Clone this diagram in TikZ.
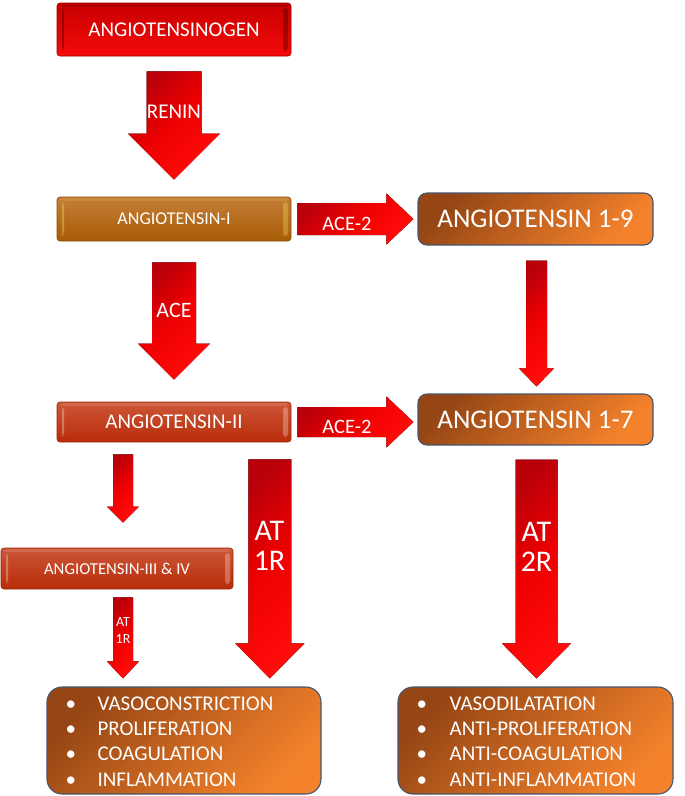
\documentclass[tikz,border=0pt]{standalone}
\usepackage{fontspec}
\setmainfont{Carlito}
\usetikzlibrary{calc}
\definecolor{arD}{RGB}{185,0,10}
\definecolor{arM}{RGB}{240,0,0}
\definecolor{arB}{RGB}{255,12,12}
\definecolor{brD}{RGB}{150,70,20}
\definecolor{brM}{RGB}{204,98,30}
\definecolor{brL}{RGB}{244,130,44}
\definecolor{bord}{RGB}{70,86,110}
\definecolor{rT}{RGB}{200,0,0}
\definecolor{rM}{RGB}{238,0,0}
\definecolor{rB}{RGB}{245,10,10}
\definecolor{gT}{RGB}{196,126,56}
\definecolor{gM}{RGB}{184,104,12}
\definecolor{gB}{RGB}{168,92,6}
\definecolor{oT}{RGB}{204,86,56}
\definecolor{oM}{RGB}{196,52,16}
\definecolor{oB}{RGB}{184,44,8}
\newcommand\fsz[2]{\fontsize{#1}{#2}\selectfont}
\newcommand\downblock[5]{%
  \fill[arrowshade] let \p1=(#1), \p2=(#2) in
  (\x1-#3,\y1) -- (\x1+#3,\y1) -- (\x1+#3,\y2+#5) -- (\x1+#4,\y2+#5) --
  (\x1,\y2) -- (\x1-#4,\y2+#5) -- (\x1-#3,\y2+#5) -- cycle;}
\newcommand\rightblock[5]{%
  \fill[arrowshade] let \p1=(#1), \p2=(#2) in
  (\x1,\y1+#3) -- (\x2-#5,\y1+#3) -- (\x2-#5,\y1+#4) -- (\x2,\y1) --
  (\x2-#5,\y1-#4) -- (\x2-#5,\y1-#3) -- (\x1,\y1-#3) -- cycle;}
\tikzset{
  arrowshade/.style={top color=arD, bottom color=arB, middle color=arM, shading angle=45},
  bevbox/.style={rounded corners=3pt, text=white, inner sep=0pt,
    path picture={
      \fill[#1,opacity=.3] ([shift={(5pt,-6pt)}]path picture bounding box.north west)
        rectangle ([shift={(7pt,6pt)}]path picture bounding box.south west);
      \fill[#1,opacity=.28] ([shift={(-8pt,-5pt)}]path picture bounding box.north east)
        rectangle ([shift={(-3pt,5pt)}]path picture bounding box.south east);
      \fill[#1,opacity=.12] ([shift={(3pt,-1pt)}]path picture bounding box.north west)
        rectangle ([shift={(-3pt,-4pt)}]path picture bounding box.north east);
    }},
  redbox/.style={bevbox=black, draw=rT!80!black, line width=.6pt, top color=rT, middle color=rM, bottom color=rB},
  goldbox/.style={bevbox=yellow!60!white, draw=gB!85!black, line width=.6pt, top color=gT, middle color=gM, bottom color=gB},
  orbox/.style={bevbox=white, draw=oB!85!black, line width=.6pt, top color=oT, middle color=oM, bottom color=oB},
  brbox/.style={draw=bord, line width=1.1pt, text=white, inner sep=0pt,
    top color=brD, middle color=brM, bottom color=brL, shading angle=45},
  lbl/.style={text=white, inner sep=0pt, align=center},
}
\begin{document}
\begin{tikzpicture}[x=1pt,y=-1pt]
\useasboundingbox (0,0) rectangle (685,796);
% boxes
\node[redbox, minimum width=234, minimum height=53, font=\fsz{21}{24}] (ago) at (174,29.5) {ANGIOTENSINOGEN};
\node[goldbox, minimum width=234, minimum height=44, font=\fsz{18}{21}] (a1) at (174,219) {ANGIOTENSIN-I};
\node[orbox, minimum width=234, minimum height=40, font=\fsz{21}{24}] (a2) at (174,422) {ANGIOTENSIN-II};
\node[orbox, minimum width=232, minimum height=41, font=\fsz{16.7}{20}] (a34) at (117,568.5) {ANGIOTENSIN-III \& IV};
\node[brbox, rounded corners=9pt, minimum width=235, minimum height=52, font=\fsz{27}{30}] (a19) at (535.5,219) {ANGIOTENSIN 1-9};
\node[brbox, rounded corners=9pt, minimum width=235, minimum height=51, font=\fsz{27}{30}] (a17) at (535.5,419.5) {ANGIOTENSIN 1-7};
\node[brbox, rounded corners=15pt, minimum width=274, minimum height=107] (effL) at (184,740.5) {};
\node[brbox, rounded corners=15pt, minimum width=275, minimum height=107] (effR) at (535.5,740.5) {};
\node[lbl, anchor=west, align=left, font=\fsz{21}{25.4}] (txL) at ($(effL.west)+(19,1)$)
  {\makebox[32pt][l]{•}VASOCONSTRICTION\\\makebox[32pt][l]{•}PROLIFERATION\\\makebox[32pt][l]{•}COAGULATION\\\makebox[32pt][l]{•}INFLAMMATION};
\node[lbl, anchor=west, align=left, font=\fsz{21}{25.4}] (txR) at ($(effR.west)+(19,1)$)
  {\makebox[33pt][l]{•}VASODILATATION\\\makebox[33pt][l]{•}ANTI-PROLIFERATION\\\makebox[33pt][l]{•}ANTI-COAGULATION\\\makebox[33pt][l]{•}ANTI-INFLAMMATION};
% arrow end points
\coordinate (reS) at ($(ago.south)+(0,15)$);
\coordinate (reE) at ($(a1.north)+(0,-17)$);
\coordinate (acS) at ($(a1.south)+(0,21)$);
\coordinate (acE) at ($(a2.north)+(0,-22)$);
\coordinate (n9S) at ($(a19.south)+(1,15)$);
\coordinate (n9E) at ($(a17.north)+(1,-7)$);
\coordinate (c1S) at ($(a1.east)+(6,0)$);
\coordinate (c1E) at ($(a19.west)+(-4,0)$);
\coordinate (c2S) at ($(a2.east)+(6,0)$);
\coordinate (c2E) at ($(a19.west |- a2.east)+(-4,0)$);
\coordinate (s3S) at ($(a2.south)+(-51,12)$);
\coordinate (s3E) at ($(a34.north)+(6,-25)$);
\coordinate (t1S) at ($(a2.south east)+(-21.5,17)$);
\coordinate (t1E) at ($(t1S |- effL.north)+(0,-8)$);
\coordinate (s4S) at ($(a34.south)+(6,8)$);
\coordinate (s4E) at ($(s4S |- effL.north)+(0,-8)$);
\coordinate (t2S) at ($(a17.south)+(1,14)$);
\coordinate (t2E) at ($(t2S |- effR.north)+(0,-8)$);
% arrows
\downblock{reS}{reE}{27.5pt}{46pt}{46pt}
\downblock{acS}{acE}{22pt}{36pt}{36pt}
\downblock{n9S}{n9E}{10.5pt}{17.5pt}{18pt}
\rightblock{c1S}{c1E}{16pt}{25.5pt}{27pt}
\rightblock{c2S}{c2E}{15pt}{25.5pt}{27pt}
\downblock{s3S}{s3E}{10pt}{16pt}{16pt}
\downblock{t1S}{t1E}{21.5pt}{34.5pt}{35pt}
\downblock{s4S}{s4E}{10pt}{16pt}{17pt}
\downblock{t2S}{t2E}{21pt}{34.5pt}{35pt}
% arrow labels
\node[lbl, font=\fsz{21}{24}] (lre) at (174,112) {RENIN};
\node[lbl, font=\fsz{22}{24}] (lac) at (174,310) {ACE};
\node[lbl, font=\fsz{20.5}{24}] (lc1) at (347,223.5) {ACE-2};
\node[lbl, font=\fsz{20.5}{24}] (lc2) at (347,426.5) {ACE-2};
\node[lbl, font=\fsz{30}{30}] (lt1) at (269.5,546) {AT\\1R};
\node[lbl, font=\fsz{14}{17}] (ls4) at (123,630.5) {AT\\1R};
\node[lbl, font=\fsz{30}{30}] (lt2) at (536.5,547) {AT\\2R};
\end{tikzpicture}
\end{document}
